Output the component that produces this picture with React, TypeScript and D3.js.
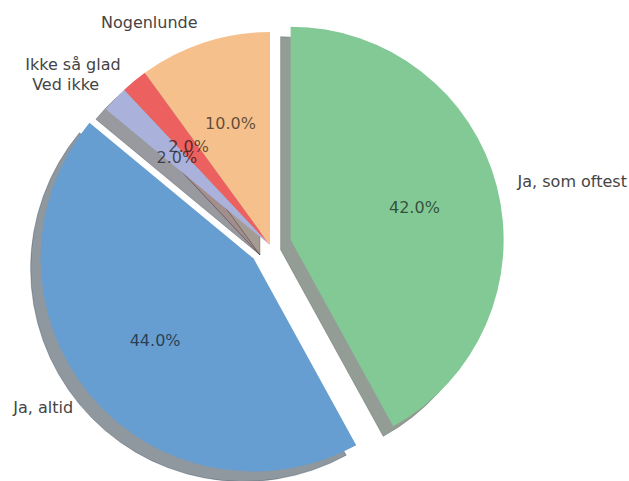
import React from "react";
import * as d3 from "d3";

const labels = ["Ja, som oftest", "Ja, altid", "Ved ikke", "Ikke så glad", "Nogenlunde"];
const values = [42, 44, 2, 2, 10];
const colors = ["#82c995", "#669ed1", "#aab2dc", "#ec6060", "#f5c08c"];
const explode = [0.1, 0.1, 0, 0, 0];

const W = 629;
const H = 481;
const cx = 270;
const cy = 245;
const R = 213;
const shadowDx = -10;
const shadowDy = 10;

export default function App() {
  const pie = d3.pie<number>().sort(null).value((d) => d);
  const arcs = pie(values);
  const arcGen = d3.arc<d3.PieArcDatum<number>>().innerRadius(0).outerRadius(R);
  const total = d3.sum(values);

  const items = arcs.map((a, i) => {
    const mid = (a.startAngle + a.endAngle) / 2;
    const e = explode[i] * R;
    const ox = cx + e * Math.sin(mid);
    const oy = cy - e * Math.cos(mid);
    const lx = ox + 1.1 * R * Math.sin(mid);
    const ly = oy - 1.1 * R * Math.cos(mid);
    const px = ox + 0.6 * R * Math.sin(mid);
    const py = oy - 0.6 * R * Math.cos(mid);
    const c = d3.rgb(colors[i]);
    const sh = d3.rgb(c.r * 0.3, c.g * 0.3, c.b * 0.3).toString();
    return { a, i, ox, oy, lx, ly, px, py, sh, mid };
  });

  return (
    <svg width={W} height={H} style={{ display: "block", position: "absolute", left: 0, top: 0 }}
      fontFamily="DejaVu Sans">
      <rect width={W} height={H} fill="#fff" />
      {items.map((it) => (
        <path key={"s" + it.i} d={arcGen(it.a) || ""}
          transform={`translate(${it.ox + shadowDx},${it.oy + shadowDy})`}
          fill={it.sh} fillOpacity={0.5} stroke={it.sh} strokeOpacity={0.5} strokeWidth={0.6} />
      ))}
      {items.map((it) => (
        <path key={"w" + it.i} d={arcGen(it.a) || ""}
          transform={`translate(${it.ox},${it.oy})`} fill={colors[it.i]} />
      ))}
      {items.map((it) => (
        <text key={"l" + it.i} x={it.lx} y={it.ly} fontSize={16} fill="#444"
          textAnchor={Math.sin(it.mid) > 0 ? "start" : "end"} dominantBaseline="central">
          {labels[it.i]}
        </text>
      ))}
      {items.map((it) => (
        <text key={"p" + it.i} x={it.px} y={it.py} fontSize={16} fill="#000" fillOpacity={0.62}
          textAnchor="middle" dominantBaseline="central">
          {((values[it.i] / total) * 100).toFixed(1) + "%"}
        </text>
      ))}
    </svg>
  );
}
